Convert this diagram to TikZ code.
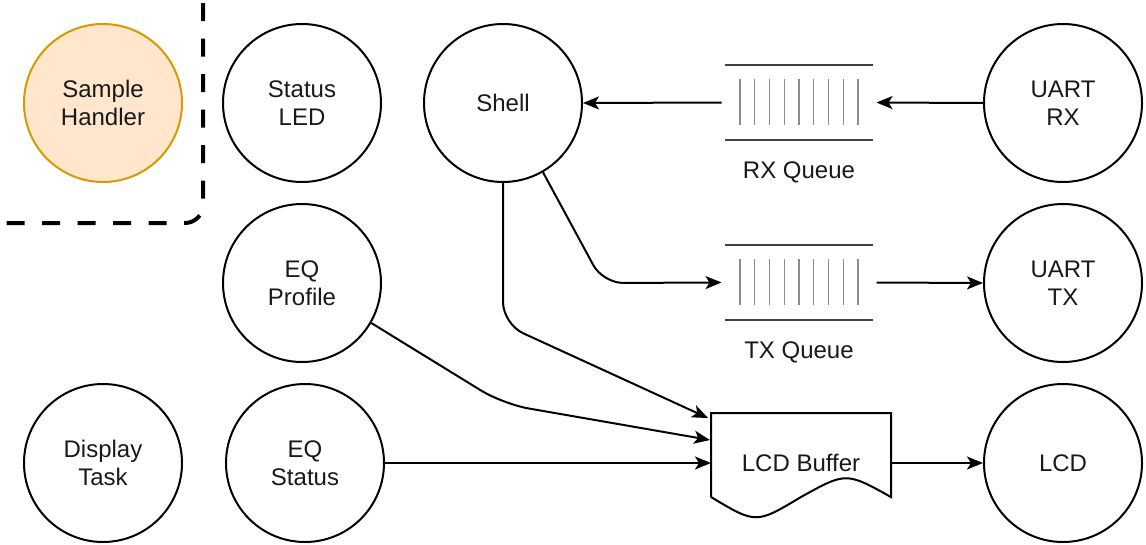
\documentclass[tikz,border=0pt]{standalone}
\usepackage{fontspec}
\setmainfont{Liberation Sans}
\usetikzlibrary{arrows.meta}
\definecolor{shfill}{HTML}{FFE6CC}
\definecolor{shdraw}{HTML}{D79B00}
\begin{document}
\begin{tikzpicture}[x=1pt,y=-1pt,
  every node/.style={font=\fontsize{24}{28}\selectfont, text=black!90},
  circ/.style={circle, draw, line width=2pt, minimum size=158pt, inner sep=0pt, align=center},
  arr/.style={line width=2pt, -{Stealth[length=16pt,width=13pt,inset=4pt]}},
  qline/.style={line width=1.3pt, draw=black!75},
  qbar/.style={line width=1.3pt, draw=black!45},
  qbox/.style={rectangle, minimum width=148pt, minimum height=75pt, outer sep=3.5pt, inner sep=0pt},
  docbox/.style={rectangle, minimum width=180pt, minimum height=100pt, inner sep=0pt, outer sep=0pt},
  sep/.style={line width=4pt, dash pattern=on 18pt off 17.5pt, dash phase=32.5pt, rounded corners=18pt},
  ]
\useasboundingbox (0,0) rectangle (1146,544);

% dashed separator
\coordinate (d1) at (203,0);
\coordinate (d2) at (203,223);
\coordinate (d3) at (0,223);
\draw[sep] (d1) -- (d2) -- (d3);

% circles
\node[circ, fill=shfill, draw=shdraw] (sh) at (103,103) {Sample\\Handler};
\node[circ] (led) at (302,103) {Status\\LED};
\node[circ] (shell) at (503,103) {Shell};
\node[circ] (urx) at (1063,103) {UART\\RX};
\node[circ] (eqp) at (302,283) {EQ\\Profile};
\node[circ] (utx) at (1063,283) {UART\\TX};
\node[circ] (disp) at (103,463) {Display\\Task};
\node[circ] (eqs) at (305,463) {EQ\\Status};
\node[circ] (lcd) at (1063,463) {LCD};

% queues
\node[qbox] (rxq) at (799,102.5) {};
\node[qbox] (txq) at (799,282.5) {};
\foreach \q in {rxq,txq}{
  \begin{scope}[shift={(\q.center)}]
    \draw[qline] (-74,-37.5) -- (74,-37.5);
    \draw[qline] (-74,37.5) -- (74,37.5);
    \foreach \i in {-4,...,4}{
      \draw[qbar] (\i*14.75,-23.5) -- (\i*14.75,22.5);
    }
  \end{scope}
}
\node (rxql) at (799,172) {RX Queue};
\node (txql) at (799,352) {TX Queue};

% LCD buffer (document shape)
\node[docbox] (lcdb) at (801,463) {LCD Buffer};
\begin{scope}[shift={(lcdb.center)}]
  \draw[line width=2pt, line join=miter] (-90,34) -- (-90,-50) -- (90,-50) -- (90,34)
    .. controls (45,9) .. (0,34) .. controls (-45,61) .. (-90,34);
\end{scope}

% connectors
\draw[arr] (rxq.west) -- (shell.east);
\draw[arr] (urx.west) -- (rxq.east);
\draw[arr] (txq.east) -- (utx.west);
\draw[arr, rounded corners=20pt] (shell.-60) -- (603,283) -- (txq.west);
\draw[arr, rounded corners=22pt] (shell.south) -- (503,324) -- ([shift={(-3,-45)}]lcdb.west);
\draw[arr, rounded corners=26pt] (eqp.-30) -- (503,404) -- ([shift={(-1,-23)}]lcdb.west);
\draw[arr] (eqs.east) -- (lcdb.west);
\draw[arr] (lcdb.east) -- (lcd.west);
\end{tikzpicture}
\end{document}
